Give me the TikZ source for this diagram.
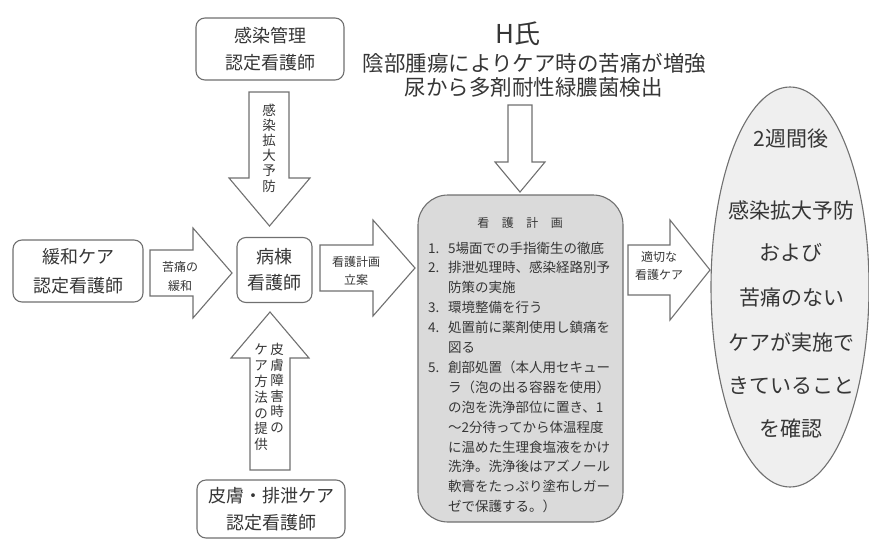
\documentclass[tikz,border=0pt]{standalone}
\usepackage{fontspec}
\setmainfont{Noto Sans CJK JP}
\usetikzlibrary{shapes.geometric}
\definecolor{ink}{HTML}{363636}
\definecolor{edge}{HTML}{707070}
\definecolor{planfill}{HTML}{DADADA}
\definecolor{ovalfill}{HTML}{EFEFEF}
\newcommand\fsz[2]{\fontsize{#1}{#2}\selectfont}
\begin{document}
\begin{tikzpicture}[x=1pt,y=-1pt,
  box/.style={draw=edge,line width=1.1pt,rounded corners=9pt,fill=white,inner sep=0pt,text=ink,align=center},
  blk/.style={draw=edge,line width=1.1pt,fill=white,line join=miter},
  lbl/.style={text=ink,inner sep=0pt,align=center},
]
\useasboundingbox (0,0) rectangle (869,538);

% boxes
\node[box,minimum width=148pt,minimum height=62pt,font=\fsz{18}{27}] (kansen) at (270,49) {感染管理\\認定看護師};
\node[box,minimum width=130pt,minimum height=62pt,font=\fsz{18}{29}] (kanwa) at (78,271) {緩和ケア\\認定看護師};
\node[box,minimum width=75pt,minimum height=65pt,font=\fsz{18}{26}] (byoto) at (274.5,270) {病棟\\看護師};
\node[box,minimum width=148pt,minimum height=58pt,font=\fsz{18}{27}] (hifu) at (271,509) {皮膚・排泄ケア\\認定看護師};
\node[box,fill=planfill,rounded corners=30pt,minimum width=205pt,minimum height=327pt] (plan) at (520.5,358.5) {};
\node[draw=edge,line width=1.1pt,fill=ovalfill,ellipse,inner sep=0pt,minimum width=158pt,minimum height=400pt] (oval) at (790,287) {};

% block arrows
\draw[blk] (249,92) -- (289,92) -- (289,178) -- (310,178) -- (269.5,226) -- (229,178) -- (249,178) -- cycle;
\draw[blk] (150,250) -- (193,250) -- (193,228) -- (232,273) -- (193,318) -- (193,296) -- (150,296) -- cycle;
\draw[blk] (320,245) -- (373,245) -- (373,220) -- (415,268) -- (373,316) -- (373,291) -- (320,291) -- cycle;
\draw[blk] (250,470) -- (250,358) -- (231,358) -- (270,312) -- (309,358) -- (290,358) -- (290,470) -- cycle;
\draw[blk] (508,105) -- (532,105) -- (532,162) -- (545,162) -- (520,192) -- (495,162) -- (508,162) -- cycle;
\draw[blk] (628,245) -- (670,245) -- (670,220) -- (710,270) -- (670,320) -- (670,295) -- (628,295) -- cycle;

% arrow labels
\node[lbl,font=\fsz{13.5}{15.2}] (t1) at (269,148) {感\\染\\拡\\大\\予\\防};
\node[lbl,font=\fsz{12}{19}] (t2) at (180,276) {苦痛の\\緩和};
\node[lbl,font=\fsz{12}{18}] (t3) at (356,271) {看護計画\\立案};
\node[lbl,font=\fsz{13.5}{15.5},anchor=north] (t4a) at (277,343) {皮\\膚\\障\\害\\時\\の};
\node[lbl,font=\fsz{13.5}{15.8},anchor=north] (t4b) at (261,344) {ケ\\ア\\方\\法\\の\\提\\供};
\node[lbl,font=\fsz{12}{18}] (t6) at (659,266) {適切な\\看護ケア};

% title
\node[lbl,font=\fsz{26}{30},anchor=base] (hname) at (518,43) {H氏};
\node[lbl,font=\fsz{21.5}{24},anchor=base] (hl1) at (534.5,71) {陰部腫瘍によりケア時の苦痛が増強};
\node[lbl,font=\fsz{21.5}{24},anchor=base] (hl2) at (533.5,95) {尿から多剤耐性緑膿菌検出};

% plan text
\node[lbl,font=\fsz{12}{14},anchor=base] (ptitle) at (520,227.5) {看\hspace{12.5pt}護\hspace{12.5pt}計\hspace{12.5pt}画};
\foreach \n/\t [count=\i from 0] in {
  1./{5場面での手指衛生の徹底},
  2./{排泄処理時、感染経路別予},
  /{防策の実施},
  3./{環境整備を行う},
  4./{処置前に薬剤使用し鎮痛を},
  /{図る},
  5./{創部処置（本人用セキュー},
  /{ラ（泡の出る容器を使用）},
  /{の泡を洗浄部位に置き、1},
  /{～2分待ってから体温程度},
  /{に温めた生理食塩液をかけ},
  /{洗浄。洗浄後はアズノール},
  /{軟膏をたっぷり塗布しガー},
  /{ゼで保護する。）}}
  \node[lbl,font=\fsz{13.5}{16},anchor=base west] (pl\i) at (428,{253+19.9*\i}) {\makebox[20pt][l]{\n}\t};

% oval text
\node[lbl,font=\fsz{21}{24},anchor=base] (o1) at (791,146) {2週間後};
\node[lbl,font=\fsz{21}{24},anchor=base] (o2) at (791,218) {感染拡大予防};
\node[lbl,font=\fsz{21}{24},anchor=base] (o3) at (791,260) {および};
\node[lbl,font=\fsz{21}{24},anchor=base] (o4) at (792,305) {苦痛のない};
\node[lbl,font=\fsz{21}{24},anchor=base] (o5) at (791,350) {ケアが実施で};
\node[lbl,font=\fsz{21}{24},anchor=base] (o6) at (791,393) {きていること};
\node[lbl,font=\fsz{21}{24},anchor=base] (o7) at (791,436) {を確認};
\end{tikzpicture}
\end{document}
